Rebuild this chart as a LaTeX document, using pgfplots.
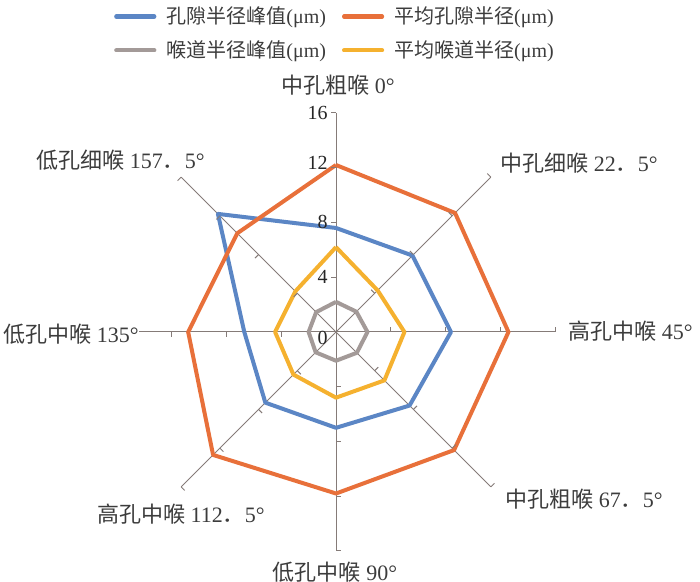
\documentclass[border=0pt]{standalone}
\usepackage{fontspec}
\setmainfont{Liberation Serif}
\newfontfamily\cjk{Noto Sans CJK SC}
\usepackage{pgfplots}
\usepgfplotslibrary{polar}
\pgfplotsset{compat=1.18}
\pgfdeclareplotmark{rtick}{\pgfpathmoveto{\pgfpointorigin}\pgfpathlineto{\pgfqpoint{0pt}{\pgfplotmarksize}}\pgfusepathqstroke}
\definecolor{cblue}{HTML}{5B86C5}
\definecolor{corange}{HTML}{E8703A}
\definecolor{cgray}{HTML}{A39A98}
\definecolor{cyellow}{HTML}{F5B12F}
\definecolor{cspoke}{HTML}{857B78}
\definecolor{ctext}{HTML}{3C3C3C}
\begin{document}
\begin{tikzpicture}
\useasboundingbox (0,0) rectangle (350pt,291pt);
\begin{polaraxis}[
  at={(168pt,125pt)}, anchor=center,
  scale only axis, width=219pt, height=219pt,
  ymin=0, ymax=16, hide axis, clip=false,
  legend columns=2,
  legend cell align=left,
  legend style={at={(0.5,1.262)}, anchor=north, draw=none, fill=none,
    font=\fontsize{10}{12}\selectfont, text=ctext,
    column sep=3pt, row sep=3pt,
    /tikz/every even column/.append style={column sep=6pt}},
  legend image code/.code={\draw[#1, line width=2.1pt, line cap=round] (0pt,0pt) -- (19pt,0pt);},
]
% spokes
\addplot[cspoke, line width=0.5pt, forget plot] coordinates {(90,0) (90,16)};
\addplot[cspoke, line width=0.5pt, forget plot] coordinates {(45,0) (45,16)};
\addplot[cspoke, line width=0.5pt, forget plot] coordinates {(0,0) (0,16)};
\addplot[cspoke, line width=0.5pt, forget plot] coordinates {(-45,0) (-45,16)};
\addplot[cspoke, line width=0.5pt, forget plot] coordinates {(-90,0) (-90,16)};
\addplot[cspoke, line width=0.5pt, forget plot] coordinates {(-135,0) (-135,16)};
\addplot[cspoke, line width=0.5pt, forget plot] coordinates {(-180,0) (-180,16)};
\addplot[cspoke, line width=0.5pt, forget plot] coordinates {(-225,0) (-225,16)};
% spoke ticks
\addplot[cspoke, line width=0.5pt, only marks, mark=rtick, mark size=2.5pt, mark options={rotate=90}, forget plot] coordinates {(90,4)(90,8)(90,12)(90,16)};
\addplot[cspoke, line width=0.5pt, only marks, mark=rtick, mark size=2.5pt, mark options={rotate=45}, forget plot] coordinates {(45,4)(45,8)(45,12)(45,16)};
\addplot[cspoke, line width=0.5pt, only marks, mark=rtick, mark size=2.5pt, mark options={rotate=0}, forget plot] coordinates {(0,4)(0,8)(0,12)(0,16)};
\addplot[cspoke, line width=0.5pt, only marks, mark=rtick, mark size=2.5pt, mark options={rotate=-45}, forget plot] coordinates {(-45,4)(-45,8)(-45,12)(-45,16)};
\addplot[cspoke, line width=0.5pt, only marks, mark=rtick, mark size=2.5pt, mark options={rotate=-90}, forget plot] coordinates {(-90,4)(-90,8)(-90,12)(-90,16)};
\addplot[cspoke, line width=0.5pt, only marks, mark=rtick, mark size=2.5pt, mark options={rotate=-135}, forget plot] coordinates {(-135,4)(-135,8)(-135,12)(-135,16)};
\addplot[cspoke, line width=0.5pt, only marks, mark=rtick, mark size=2.5pt, mark options={rotate=-180}, forget plot] coordinates {(-180,4)(-180,8)(-180,12)(-180,16)};
\addplot[cspoke, line width=0.5pt, only marks, mark=rtick, mark size=2.5pt, mark options={rotate=-225}, forget plot] coordinates {(-225,4)(-225,8)(-225,12)(-225,16)};
% data
\addplot[cblue, line width=2pt, line join=round, no marks] coordinates {
 (90,7.6) (45,7.9) (0,8.4) (-45,7.6) (-90,7.0) (-135,7.3) (-180,6.7) (-225,12.2) (-270,7.6)};
\addlegendentry{{\cjk 孔隙半径峰值}(μm)}
\addplot[corange, line width=2pt, line join=round, no marks] coordinates {
 (90,12.2) (45,12.3) (0,12.6) (-45,12.2) (-90,11.8) (-135,12.7) (-180,10.8) (-225,10.2) (-270,12.2)};
\addlegendentry{{\cjk 平均孔隙半径}(μm)}
\addplot[cgray, line width=2pt, line join=round, no marks] coordinates {
 (90,2.2) (45,2.1) (0,2.3) (-45,2.15) (-90,2.1) (-135,2.1) (-180,2.0) (-225,2.05) (-270,2.2)};
\addlegendentry{{\cjk 喉道半径峰值}(μm)}
\addplot[cyellow, line width=2pt, line join=round, no marks] coordinates {
 (90,6.2) (45,4.3) (0,5.0) (-45,5.0) (-90,4.8) (-135,4.4) (-180,4.45) (-225,4.2) (-270,6.2)};
\addlegendentry{{\cjk 平均喉道半径}(μm)}
\end{polaraxis}
% radial tick labels
\begin{scope}[every node/.style={font=\fontsize{10}{12}\selectfont, text=black!85, anchor=east, inner sep=0pt}]
\node at (164pt,234.5pt) {16};
\node at (164pt,209.5pt) {12};
\node at (164pt,180pt) {8};
\node at (164pt,152.5pt) {4};
\node at (164pt,122pt) {0};
\end{scope}
% category labels
\begin{scope}[every node/.style={font=\fontsize{11}{13}\selectfont, text=ctext, inner sep=0pt}]
\node[anchor=center] at (169pt,248.5pt) {{\cjk 中孔粗喉}\ 0°};
\node[anchor=west] at (250pt,209.5pt) {{\cjk 中孔细喉}\ 22{\cjk ．}5°};
\node[anchor=west] at (284pt,125.5pt) {{\cjk 高孔中喉}\ 45°};
\node[anchor=west] at (252.5pt,41.5pt) {{\cjk 中孔粗喉}\ 67{\cjk ．}5°};
\node[anchor=center] at (167.5pt,5pt) {{\cjk 低孔中喉}\ 90°};
\node[anchor=east] at (132.5pt,34pt) {{\cjk 高孔中喉}\ 112{\cjk ．}5°};
\node[anchor=west, fill=white] at (1.5pt,124pt) {{\cjk 低孔中喉}\ 135°};
\node[anchor=east] at (102.5pt,211pt) {{\cjk 低孔细喉}\ 157{\cjk ．}5°};
\end{scope}
\end{tikzpicture}
\end{document}
